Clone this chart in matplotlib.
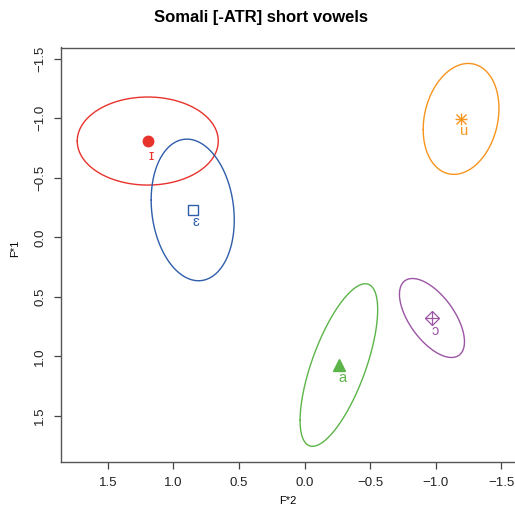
import numpy as np
import matplotlib
matplotlib.use("Agg")
import matplotlib.pyplot as plt

plt.rcParams['font.family'] = ['Liberation Sans', 'DejaVu Sans']

# Vowel means in the normalised formant space (F*2, F*1)
vowels = ["ɪ", "ɛ", "u", "a", "ɔ"]
f2_mean = [1.196, 0.853, -1.194, -0.262, -0.972]
f1_mean = [-0.809, -0.230, -0.995, 1.073, 0.678]

# Ellipse extents along each axis and the F2/F1 correlation
f2_extent = [0.538, 0.317, 0.289, 0.296, 0.248]
f1_extent = [0.370, 0.595, 0.466, 0.683, 0.332]
corr = [0.0, -0.14, 0.19, 0.68, -0.60]

colors = ["#E8322C", "#2E5DAA", "#F7941D", "#5BB548", "#9B55A4"]

W, H = 515, 516
fig = plt.figure(figsize=(W / 100, H / 100), dpi=100)
ax_l, ax_r, ax_b, ax_t = 60.7, 530.0, 462.0, 47.5
ax = fig.add_axes([ax_l / W, (H - ax_b) / H, (ax_r - ax_l) / W, (ax_b - ax_t) / H])

t = np.linspace(0, 2 * np.pi, 400)
for i, v in enumerate(vowels):
    r = corr[i]
    ex = f2_mean[i] + f2_extent[i] * np.cos(t)
    ey = f1_mean[i] + f1_extent[i] * (r * np.cos(t) + np.sqrt(1 - r * r) * np.sin(t))
    ax.plot(ex, ey, color=colors[i], lw=1.0, solid_capstyle='round')

# Means with their symbols
ax.plot(f2_mean[0], f1_mean[0], 'o', ms=7.5, color=colors[0], mec=colors[0])
ax.plot(f2_mean[1], f1_mean[1], 's', ms=7.2, mfc='none', mec=colors[1], mew=1.0)
ax.plot(f2_mean[2], f1_mean[2], '+', ms=9, mec=colors[2], mew=1.0)
ax.plot(f2_mean[2], f1_mean[2], 'x', ms=6.5, mec=colors[2], mew=1.0)
ax.plot(f2_mean[3], f1_mean[3], '^', ms=9, color=colors[3], mec=colors[3])
ax.plot(f2_mean[4], f1_mean[4], 'D', ms=7.5, mfc='none', mec=colors[4], mew=0.9)
ax.plot(f2_mean[4], f1_mean[4], '+', ms=10, mec=colors[4], mew=0.9)

for i, v in enumerate(vowels):
    dy = -11 if v == "ɪ" else -9
    ax.annotate(v, (f2_mean[i], f1_mean[i]), xytext=(2.2, dy), textcoords='offset points',
                ha='center', va='center', fontsize=10.5, color=colors[i])

ax.set_xlim(1.86, (304.7 - ax_r) / 131.0)
ax.set_ylim(1.888, -1.595)

xt = [1.5, 1.0, 0.5, 0.0, -0.5, -1.0, -1.5]
yt = [-1.5, -1.0, -0.5, 0.0, 0.5, 1.0, 1.5]
ax.set_xticks(xt)
ax.set_xticklabels([f"{v:.1f}".replace('-', '\u2212') for v in xt])
ax.set_yticks(yt)
ax.set_yticklabels([f"{v:.1f}".replace('-', '\u2212') for v in yt], rotation=90, va='center')

for s in ax.spines.values():
    s.set_color('#555555')
    s.set_linewidth(1.0)
ax.tick_params(direction='out', length=5, width=0.9, color='#444444',
               labelsize=9.5, labelcolor='#222222', pad=5.5)

fig.text(261.5 / W, 1 - 17 / H, "Somali [-ATR] short vowels", ha='center', va='center',
         fontsize=12, fontweight='bold')
fig.text(288 / W, 1 - 501 / H, "F*2", ha='center', va='center', fontsize=8)
fig.text(15 / W, 1 - 248 / H, "F*1", ha='center', va='center', fontsize=8, rotation=90)

fig.savefig("out.png", dpi=100)
